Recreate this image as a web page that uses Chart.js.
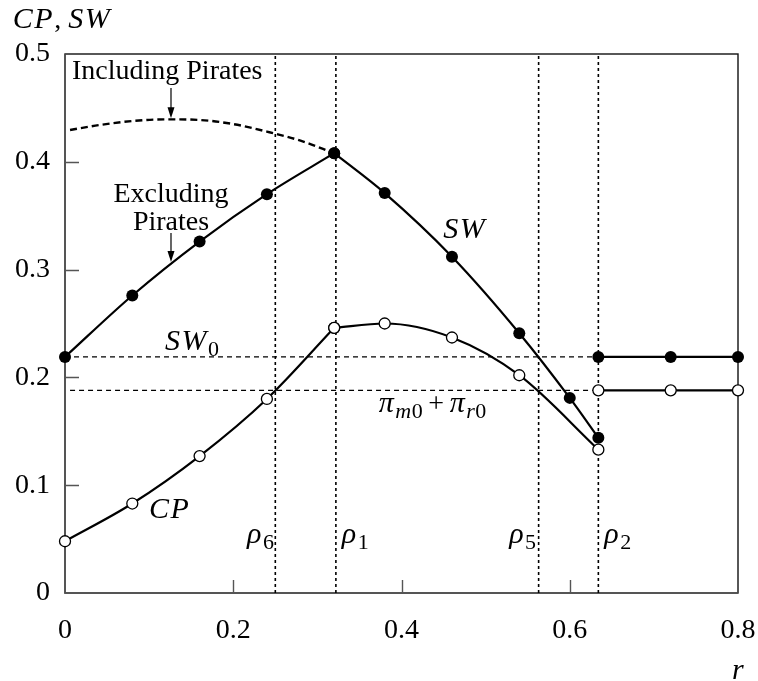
<!DOCTYPE html>
<html>
<head>
<meta charset="utf-8">
<script src="https://cdn.jsdelivr.net/npm/chart.js@4.4.1/dist/chart.umd.min.js"></script>
<style>
  html, body { margin: 0; padding: 0; background: #fff; }
</style>
</head>
<body>
<canvas id="chart" width="758" height="681"></canvas>
<script>
// axis ticks
const xTicks = [0, 0.2, 0.4, 0.6, 0.8];
const xTickLabels = ['0', '0.2', '0.4', '0.6', '0.8'];
const yTicks = [0, 0.1, 0.2, 0.3, 0.4, 0.5];
const yTickLabels = ['0', '0.1', '0.2', '0.3', '0.4', '0.5'];

// SW and CP, left of rho1
const rLeft = [0, 0.08, 0.16, 0.24, 0.32];
const swLeft = [0.219, 0.276, 0.326, 0.370, 0.408];
const cpLeft = [0.048, 0.083, 0.127, 0.180, 0.246];

// between rho1 and rho2
const rSwRight = [0.32, 0.38, 0.46, 0.54, 0.60, 0.634];
const swRight = [0.408, 0.371, 0.312, 0.241, 0.181, 0.144];
const rCpRight = [0.32, 0.38, 0.46, 0.54, 0.634];
const cpRight = [0.246, 0.250, 0.237, 0.202, 0.133];

// right of rho2
const rFlat = [0.634, 0.72, 0.80];
const swFlat = [0.219, 0.219, 0.219];
const cpFlat = [0.188, 0.188, 0.188];

// SW including pirates (dashed)
const rIncl = [0.006, 0.04, 0.08, 0.12, 0.16, 0.20, 0.24, 0.28, 0.32];
const swIncl = [0.4295, 0.434, 0.4378, 0.4394, 0.4388, 0.435, 0.428, 0.4196, 0.408];

// thresholds rho6, rho1, rho5, rho2 and reference levels
const rhoValues = [0.25, 0.322, 0.563, 0.634];
const sw0 = 0.219;
const pi0 = 0.188;

const pts = (xs, ys) => xs.map((x, i) => ({ x: x, y: ys[i] }));

const FONT = '"Liberation Serif", "Times New Roman", serif';

function curve(data, open) {
    return {
        data: data,
        showLine: true,
        borderColor: '#000',
        borderWidth: 2.2,
        cubicInterpolationMode: 'monotone',
        tension: 0.4,
        pointRadius: open ? 5.5 : 6,
        pointBackgroundColor: open ? '#fff' : '#000',
        pointBorderColor: '#000',
        pointBorderWidth: open ? 1.3 : 0,
        clip: false
    };
}

function refLine(data, dash, width) {
    return {
        data: data,
        showLine: true,
        borderColor: '#000',
        borderWidth: width,
        borderDash: dash,
        pointRadius: 0,
        tension: 0,
        order: 10,
        clip: false
    };
}

const datasets = [
    curve(pts(rLeft, swLeft), false),
    curve(pts(rSwRight, swRight), false),
    curve(pts(rFlat, swFlat), false),
    curve(pts(rLeft, cpLeft), true),
    curve(pts(rCpRight, cpRight), true),
    curve(pts(rFlat, cpFlat), true),
    {
        data: pts(rIncl, swIncl),
        showLine: true,
        borderColor: '#000',
        borderWidth: 2.4,
        borderDash: [7, 4],
        cubicInterpolationMode: 'monotone',
        pointRadius: 0,
        clip: false
    },
    refLine([{ x: 0, y: sw0 }, { x: rhoValues[3], y: sw0 }], [5, 4], 1.3),
    refLine([{ x: 0.006, y: pi0 }, { x: rhoValues[3], y: pi0 }], [5, 4], 1.3)
];
rhoValues.forEach(r => {
    datasets.push(refLine([{ x: r, y: 0 }, { x: r, y: 0.5 }], [3, 3], 1.6));
});

// text labels, in data units: [text, style] r=roman, i=math italic, s*=subscript
const notes = [
    { x: -0.062, y: 0.524, runs: [['CP', 'i'], [', ', 'r'], ['SW', 'i']] },
    { x: 0.793, y: -0.08, runs: [['r', 'i']] },
    { x: 0.0083, y: 0.4768, runs: [['Including Pirates', 'r']] },
    { x: 0.126, y: 0.3627, runs: [['Excluding', 'r']], center: true },
    { x: 0.126, y: 0.3367, runs: [['Pirates', 'r']], center: true },
    { x: 0.4495, y: 0.3293, runs: [['SW', 'i']] },
    { x: 0.119, y: 0.2254, runs: [['SW', 'i'], ['0', 'sr']] },
    { x: 0.373, y: 0.168, runs: [['π', 'i'], ['m', 'si'], ['0', 'sr'], ['\u2009+\u2009', 'r'], ['π', 'i'], ['r', 'si'], ['0', 'sr']] },
    { x: 0.0999, y: 0.0696, runs: [['CP', 'i']] },
    { x: 0.2164, y: 0.0464, runs: [['ρ', 'i'], ['6', 'sr']] },
    { x: 0.329, y: 0.0464, runs: [['ρ', 'i'], ['1', 'sr']] },
    { x: 0.528, y: 0.0464, runs: [['ρ', 'i'], ['5', 'sr']] },
    { x: 0.641, y: 0.0464, runs: [['ρ', 'i'], ['2', 'sr']] }
];
const arrows = [
    { x: 0.126, from: 0.4685, to: 0.4403 },
    { x: 0.126, from: 0.334, to: 0.307 }
];

const fonts = {
    r: ['28px ' + FONT, '0px'],
    i: ['italic 30px ' + FONT, '1.5px'],
    sr: ['22px ' + FONT, '0px'],
    si: ['italic 22px ' + FONT, '0.5px']
};

function drawRuns(ctx, runs, x, y, center) {
    let w = 0;
    const setFont = k => { ctx.font = fonts[k][0]; ctx.letterSpacing = fonts[k][1]; };
    runs.forEach(([t, k]) => { setFont(k); w += ctx.measureText(t).width; });
    let cx = center ? x - w / 2 : x;
    runs.forEach(([t, k]) => {
        setFont(k);
        ctx.fillText(t, cx, y + (k[0] === 's' ? 6 : 0));
        cx += ctx.measureText(t).width;
    });
    ctx.letterSpacing = '0px';
}

const decor = {
    id: 'decor',
    beforeDatasetsDraw(chart) {
        const { ctx, chartArea: a, scales: { x, y } } = chart;
        ctx.save();
        ctx.lineWidth = 1.4;
        ctx.strokeStyle = '#111';
        ctx.strokeRect(a.left, a.top, a.right - a.left, a.bottom - a.top);
        ctx.strokeStyle = '#555';
        ctx.beginPath();
        ctx.moveTo(a.left, a.top);
        ctx.lineTo(a.left, a.bottom);
        ctx.lineTo(a.right, a.bottom);
        ctx.stroke();
        ctx.beginPath();
        yTicks.slice(1, -1).forEach(v => {
            const py = Math.round(y.getPixelForValue(v)) + 0.5;
            ctx.moveTo(a.left, py);
            ctx.lineTo(a.left + 14, py);
        });
        xTicks.slice(1, -1).forEach(v => {
            const px = Math.round(x.getPixelForValue(v)) + 0.5;
            ctx.moveTo(px, a.bottom);
            ctx.lineTo(px, a.bottom - 13);
        });
        ctx.stroke();
        ctx.restore();
    },
    afterDatasetsDraw(chart) {
        const { ctx, scales: { x, y } } = chart;
        ctx.save();
        ctx.fillStyle = '#000';
        ctx.textBaseline = 'alphabetic';
        ctx.textAlign = 'left';
        notes.forEach(n => drawRuns(ctx, n.runs, x.getPixelForValue(n.x), y.getPixelForValue(n.y), n.center));
        ctx.strokeStyle = '#000';
        ctx.lineWidth = 1.2;
        arrows.forEach(ar => {
            const px = x.getPixelForValue(ar.x);
            const y1 = y.getPixelForValue(ar.from);
            const y2 = y.getPixelForValue(ar.to);
            ctx.beginPath();
            ctx.moveTo(px, y1);
            ctx.lineTo(px, y2 - 8);
            ctx.stroke();
            ctx.beginPath();
            ctx.moveTo(px, y2);
            ctx.lineTo(px - 3.5, y2 - 11);
            ctx.lineTo(px + 3.5, y2 - 11);
            ctx.closePath();
            ctx.fill();
        });
        ctx.restore();
    }
};

new Chart(document.getElementById('chart'), {
    type: 'scatter',
    data: { datasets: datasets },
    plugins: [decor],
    options: {
        responsive: false,
        animation: false,
        devicePixelRatio: 1,
        layout: { padding: { top: 54, right: 20, left: 0, bottom: 0 }, autoPadding: false },
        plugins: { legend: { display: false }, tooltip: { enabled: false } },
        scales: {
            x: {
                type: 'linear',
                min: 0,
                max: 0.8,
                afterBuildTicks: s => { s.ticks = xTicks.map(v => ({ value: v })); },
                afterFit: s => { s.height = 88; s.paddingLeft = 0; s.paddingRight = 0; },
                grid: { display: false, drawTicks: false },
                border: { display: false },
                ticks: {
                    font: { family: FONT, size: 28 },
                    color: '#000',
                    padding: 21,
                    maxRotation: 0,
                    autoSkip: false,
                    callback: v => xTickLabels[xTicks.indexOf(v)]
                }
            },
            y: {
                type: 'linear',
                min: 0,
                max: 0.5,
                afterBuildTicks: s => { s.ticks = yTicks.map(v => ({ value: v })); },
                afterFit: s => { s.width = 65; s.paddingTop = 0; s.paddingBottom = 0; },
                grid: { display: false, drawTicks: false },
                border: { display: false },
                ticks: {
                    font: { family: FONT, size: 28 },
                    color: '#000',
                    padding: 15,
                    autoSkip: false,
                    callback: v => yTickLabels[yTicks.indexOf(v)]
                }
            }
        }
    }
});
</script>
</body>
</html>
